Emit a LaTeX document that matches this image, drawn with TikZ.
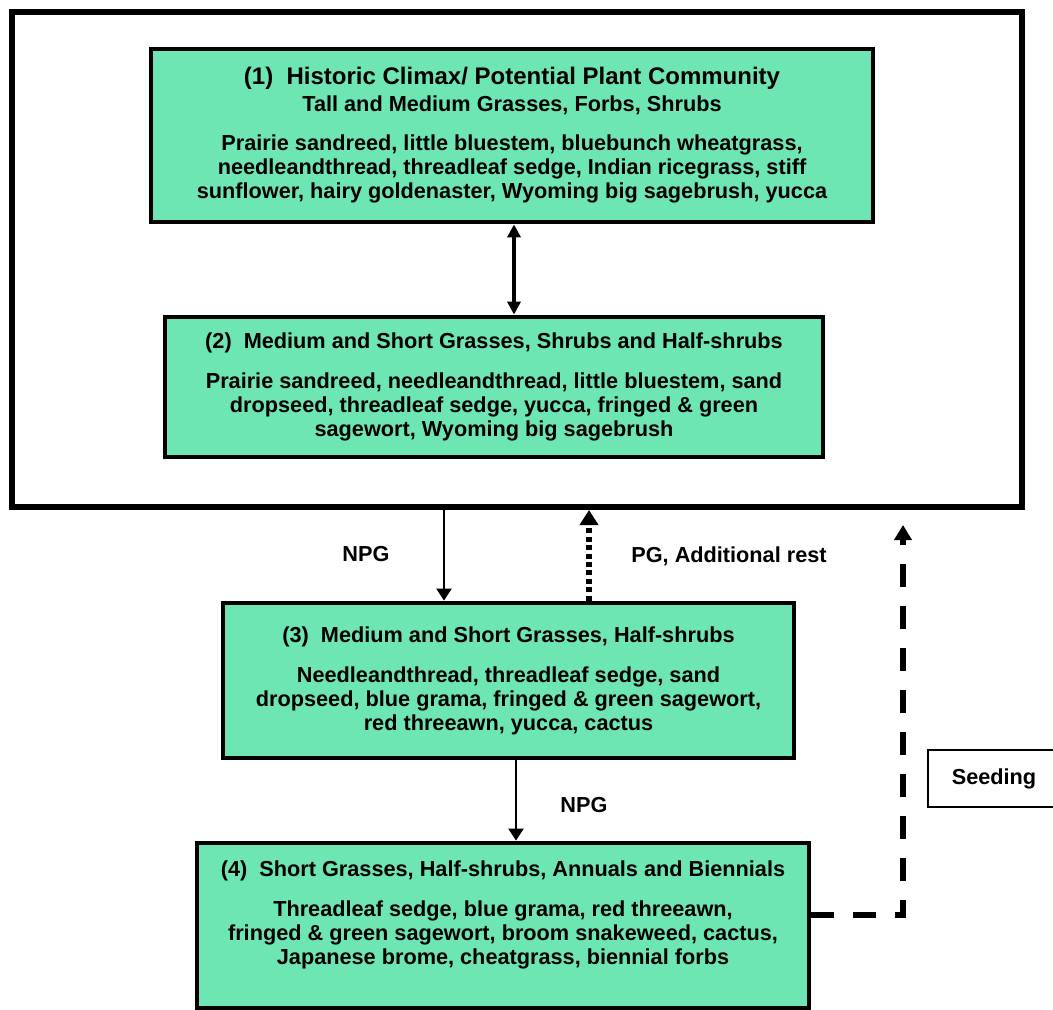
\documentclass[tikz,border=0pt]{standalone}
\usepackage{fontspec}
\setmainfont{Liberation Sans}
\usepackage{xcolor}
\usepackage{tikz}
\usetikzlibrary{arrows.meta}
\definecolor{mint}{HTML}{6EE6B3}

\begin{document}
\begin{tikzpicture}[
    x=0.5pt, y=-0.5pt,
    font=\fontsize{10.85}{12}\selectfont\bfseries,
    box/.style={rectangle, draw=black, line width=2.4pt, fill=mint, align=center, inner sep=0pt},
    grp/.style={rectangle, draw=black, line width=3pt, minimum width=505pt, minimum height=247.5pt, inner sep=0pt},
    tag/.style={rectangle, draw=black, line width=1pt, fill=white, minimum width=66pt, minimum height=28.5pt, inner sep=0pt},
    lbl/.style={inner sep=0pt, align=center},
    arr/.style={-{Triangle[length=6pt,width=7.5pt]}, line width=1.2pt},
    darr/.style={{Triangle[length=6.5pt,width=6.5pt]}-{Triangle[length=6.5pt,width=6.5pt]}, line width=1.8pt},
    dotarr/.style={-{Triangle[length=7.5pt,width=9pt]}, line width=2.8pt, dash pattern=on 2.5pt off 1.7pt},
    dasharr/.style={-{Triangle[length=7.5pt,width=8.5pt]}, line width=3pt, dash pattern=on 11.5pt off 9.5pt}
]
\useasboundingbox (0,0) rectangle (1053,1010);
% states
\node[grp] (grp) at (517,259.5) {};
\node[box, minimum width=361pt, minimum height=86.5pt] (b1) at (512,135.5)
  {{\fontsize{12}{13}\selectfont (1)~ Historic Climax/ Potential Plant Community}\\[1.5pt]
   Tall and Medium Grasses, Forbs, Shrubs\\[7.5pt]
   Prairie sandreed, little bluestem, bluebunch wheatgrass,\\
   needleandthread, threadleaf sedge, Indian ricegrass, stiff\\
   sunflower, hairy goldenaster, Wyoming big sagebrush, yucca};
\node[box, minimum width=329pt, minimum height=70pt] (b2) at (494,387)
  {(2)~ Medium and Short Grasses, Shrubs and Half-shrubs\\[8pt]
   Prairie sandreed, needleandthread, little bluestem, sand\\
   dropseed, threadleaf sedge, yucca, fringed \& green\\
   sagewort, Wyoming big sagebrush};
\node[box, minimum width=285.5pt, minimum height=77.5pt] (b3) at (508.5,680.5)
  {(3)~ Medium and Short Grasses, Half-shrubs\\[8pt]
   Needleandthread, threadleaf sedge, sand\\
   dropseed, blue grama, fringed \& green sagewort,\\
   red threeawn, yucca, cactus};
\node[box, minimum width=306pt, minimum height=82.5pt] (b4) at (503,925.5) {};
\node[lbl] (b4text) at (503,915)
  {(4)~ Short Grasses, Half-shrubs, Annuals and Biennials\\[8pt]
   Threadleaf sedge, blue grama, red threeawn,\\
   fringed \& green sagewort, broom snakeweed, cactus,\\
   Japanese brome, cheatgrass, biennial forbs};
\node[tag] (seed) at (994,778.5) {Seeding};
% transition labels
\node[lbl] (npga) at (366,554) {NPG};
\node[lbl] (pgrest) at (729,556) {PG, Additional rest};
\node[lbl] (npgb) at (584,805) {NPG};
% arrow columns
\coordinate (xm) at (514,0);
\coordinate (xa) at (444,0);
\coordinate (xb) at (589,0);
\coordinate (xc) at (516,0);
\coordinate (bend) at (903,915);
\coordinate (tip) at (903,525);
\draw[darr] (b1.south -| xm) -- (b2.north -| xm);
\draw[arr] (grp.south -| xa) -- (b3.north -| xa);
\draw[dotarr] (b3.north -| xb) -- (grp.south -| xb);
\draw[arr] (b3.south -| xc) -- (b4.north -| xc);
\draw[dasharr] (b4.east |- bend) -- (bend) -- (tip);
\end{tikzpicture}
\end{document}
